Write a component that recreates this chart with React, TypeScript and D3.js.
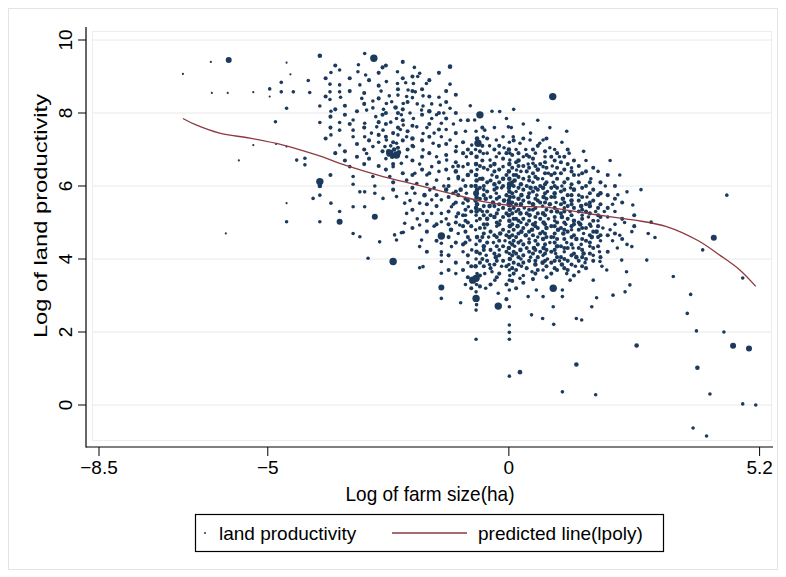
import React from 'react';
import * as d3 from 'd3';

// ---------- data ----------
const xTicks = [-8.5, -5, 0, 5.2];
const yTicks = [0, 2, 4, 6, 8, 10];
const xTitle = 'Log of farm size(ha)';
const yTitle = 'Log of land productivity';
const legendLabels = ['land productivity', 'predicted line(lpoly)'];

// predicted line (lpoly)
const lpolyX = [-6.76, -6.5, -6.0, -5.37, -4.68, -3.99, -3.3, -2.61, -1.91, -1.22, -0.53, 0.16, 0.85, 1.61, 2.58, 3.27, 3.93, 4.38, 4.79, 5.12];
const lpolyY = [7.85, 7.68, 7.45, 7.31, 7.12, 6.85, 6.53, 6.26, 6.03, 5.8, 5.57, 5.45, 5.41, 5.25, 5.07, 4.89, 4.5, 4.1, 3.7, 3.25];

// scatter: [log farm size, log land productivity, weight]
const farLeft: [number, number, number][] = [
  [-6.76, 9.07, 0.5], [-6.18, 9.4, 0.5], [-5.81, 9.45, 3], [-6.16, 8.55, 0.5], [-5.83, 8.55, 0.5], [-5.87, 4.7, 0.5],
  [-5.6, 6.7, 0.5], [-5.3, 8.57, 0.5], [-5.3, 7.12, 0.5], [-4.96, 8.66, 1], [-4.96, 8.45, 0.5], [-4.84, 7.76, 1],
  [-4.83, 7.15, 0.5], [-4.72, 8.84, 1], [-4.72, 8.58, 1], [-4.61, 9.38, 0.5], [-4.53, 9.06, 0.5], [-4.61, 8.13, 1],
  [-4.61, 7.08, 0.5], [-4.61, 5.53, 0.5], [-4.61, 5.02, 1], [-4.47, 8.58, 1],
];
const leftBand: [number, number, number][] = [
  [-4.4, 6.71, 1], [-4.23, 6.76, 1], [-4.23, 6.58, 1], [-4.16, 8.89, 1], [-4.13, 8.56, 1], [-4.06, 5.66, 1],
  [-3.92, 9.57, 2], [-3.92, 8.19, 1], [-3.92, 7.74, 1], [-3.92, 6.12, 4], [-3.92, 6.0, 2], [-3.92, 5.75, 1],
  [-3.92, 5.02, 1], [-3.71, 8.79, 1], [-3.71, 8.58, 1], [-3.71, 8.37, 1], [-3.69, 9.11, 1], [-3.69, 8.05, 1],
  [-3.69, 7.4, 1], [-3.69, 5.53, 1], [-3.51, 9.18, 1], [-3.51, 8.77, 1], [-3.51, 8.58, 1], [-3.49, 8.43, 1],
  [-3.51, 7.74, 1], [-3.51, 7.53, 1], [-3.51, 7.12, 1], [-3.51, 5.3, 1], [-3.51, 5.02, 3], [-3.3, 6.53, 1],
  [-3.23, 7.81, 1], [-3.23, 7.53, 1], [-3.23, 7.35, 1], [-3.23, 6.26, 1], [-3.23, 6.05, 1], [-3.23, 5.43, 1],
  [-3.23, 4.7, 1], [-3.12, 9.32, 1], [-3.13, 9.13, 1], [-3.09, 8.77, 1], [-3.09, 5.84, 1], [-3.09, 4.61, 1],
  [-3.05, 8.4, 1],
];
const midLeft: [number, number, number][] = [
  [-2.99, 9.63, 1], [-2.97, 9.04, 1], [-2.8, 9.5, 4], [-2.99, 7.72, 1], [-2.95, 8.08, 1], [-2.99, 7.35, 1],
  [-2.95, 6.89, 1], [-2.99, 5.84, 1], [-2.99, 5.43, 1], [-2.92, 4.02, 1], [-2.82, 8.33, 1], [-2.82, 8.14, 1],
  [-2.82, 7.08, 1], [-2.82, 6.26, 1], [-2.76, 7.9, 1], [-2.74, 7.62, 1], [-2.78, 6.0, 1], [-2.78, 5.8, 1],
  [-2.78, 5.16, 3], [-2.68, 4.47, 1], [-2.61, 7.53, 1], [-2.61, 5.66, 1], [-2.57, 7.08, 1], [-2.54, 8.86, 1],
  [-2.54, 8.26, 1], [-2.54, 7.26, 1], [-2.48, 8.47, 1], [-2.47, 6.9, 4], [-2.47, 6.26, 1], [-2.43, 8.31, 1],
  [-2.4, 6.53, 1], [-2.4, 3.93, 4], [-2.37, 4.66, 1], [-2.33, 6.85, 4], [-2.33, 7.85, 1], [-2.33, 7.17, 1],
  [-2.33, 5.71, 1], [-2.33, 4.52, 1], [-2.31, 9.13, 1], [-2.31, 8.81, 1], [-2.3, 8.49, 1], [-2.3, 7.4, 1],
  [-2.23, 7.95, 1], [-2.23, 6.62, 1], [-2.23, 4.72, 1], [-2.19, 8.26, 1], [-2.19, 7.67, 1], [-2.19, 4.73, 1],
  [-2.16, 5.53, 1], [-2.16, 4.98, 1], [-2.14, 8.83, 1], [-2.12, 8.45, 1], [-2.12, 7.35, 1], [-2.12, 6.8, 1],
  [-2.12, 6.16, 1], [-2.12, 5.8, 1], [-2.12, 5.25, 1], [-2.09, 8.63, 1], [-2.0, 8.42, 1],
  [-2.5, 6.95, 2], [-2.42, 6.8, 2], [-2.38, 7.0, 2], [-2.28, 6.92, 2], [-2.55, 6.75, 1], [-2.45, 7.1, 1],
  [-2.65, 8.6, 1], [-2.6, 8.1, 1], [-2.45, 7.75, 1], [-2.35, 8.15, 2], [-2.25, 7.55, 1], [-2.05, 8.0, 1],
  [-2.85, 7.45, 1], [-2.7, 7.2, 1],
];
const centreLeft: [number, number, number][] = [
  [-1.98, 8.81, 1], [-1.96, 9.25, 1], [-1.94, 8.58, 1], [-1.98, 7.85, 1], [-1.98, 7.08, 1], [-1.95, 5.8, 1],
  [-1.91, 7.62, 1], [-1.91, 6.07, 1], [-1.89, 9.0, 1], [-1.85, 9.09, 1], [-1.85, 5.53, 1], [-1.85, 4.93, 1],
  [-1.85, 4.34, 1], [-1.81, 8.08, 1], [-1.81, 4.52, 1], [-1.78, 8.47, 1], [-1.78, 8.19, 1], [-1.78, 7.44, 1],
  [-1.78, 6.99, 1], [-1.78, 5.25, 1], [-1.78, 3.79, 1], [-1.71, 8.81, 1], [-1.64, 5.89, 1], [-1.6, 8.25, 1],
  [-1.6, 7.85, 1], [-1.6, 6.53, 1], [-1.6, 5.62, 1], [-1.57, 7.17, 1], [-1.5, 6.8, 1], [-1.5, 6.16, 1],
  [-1.45, 8.43, 1], [-1.42, 8.22, 1], [-1.4, 7.72, 1], [-1.4, 7.35, 1], [-1.4, 5.62, 1], [-1.4, 5.25, 1],
  [-1.4, 5.02, 1], [-1.4, 4.63, 4], [-1.4, 4.43, 1], [-1.4, 4.2, 1], [-1.4, 4.11, 1], [-1.4, 3.93, 1],
  [-1.4, 3.61, 1], [-1.4, 3.22, 3], [-1.4, 2.92, 1], [-1.29, 6.71, 1], [-1.22, 9.27, 2], [-1.22, 8.79, 1],
  [-1.22, 8.13, 1], [-1.22, 7.26, 1], [-1.19, 5.43, 1], [-1.19, 4.34, 1], [-1.16, 6.53, 1], [-1.16, 5.8, 1],
  [-1.09, 7.08, 1], [-1.09, 5.16, 1], [-1.02, 4.93, 1], [-1.35, 6.0, 1], [-1.7, 6.3, 1], [-1.3, 5.9, 2],
  [-1.05, 6.2, 1], [-1.55, 4.9, 1], [-1.2, 4.8, 2], [-1.9, 8.25, 1], [-1.7, 7.6, 1], [-1.65, 8.05, 2],
  [-1.55, 7.45, 1], [-1.5, 7.95, 1], [-1.35, 8.0, 1], [-1.3, 7.55, 1], [-1.15, 7.7, 1], [-2.0, 7.3, 2],
  [-1.95, 6.35, 1], [-1.85, 6.6, 1], [-1.75, 5.75, 2], [-1.7, 6.05, 1], [-1.55, 5.95, 1], [-1.45, 6.4, 1],
  [-1.25, 6.2, 1], [-1.1, 6.4, 2], [-1.15, 5.5, 1], [-1.3, 5.1, 1], [-1.6, 5.25, 1], [-1.9, 5.1, 1],
  [-2.05, 5.6, 1], [-1.85, 3.76, 1],
];
const centre: [number, number, number][] = [
  [-0.95, 6.53, 1], [-0.95, 6.16, 1], [-0.95, 5.53, 1], [-0.88, 6.8, 1], [-0.88, 5.8, 1], [-0.84, 5.43, 1],
  [-0.81, 4.52, 1], [-0.77, 7.12, 1], [-0.77, 4.25, 1], [-0.75, 3.42, 4], [-0.64, 7.17, 4], [-0.6, 7.95, 4],
  [-0.71, 7.81, 1], [-0.53, 7.35, 1], [-0.53, 6.89, 1], [-0.5, 7.53, 1], [-0.48, 3.2, 1], [-0.39, 6.71, 1],
  [-0.68, 7.5, 1], [-0.66, 7.3, 2], [-0.69, 7.0, 1], [-0.67, 6.8, 2], [-0.68, 6.6, 2], [-0.66, 6.45, 1],
  [-0.68, 6.3, 2], [-0.67, 6.15, 2], [-0.69, 6.0, 2], [-0.66, 5.9, 2], [-0.68, 5.8, 3], [-0.67, 5.7, 2],
  [-0.69, 5.6, 2], [-0.66, 5.5, 2], [-0.68, 5.4, 2], [-0.67, 5.3, 2], [-0.68, 5.2, 1], [-0.67, 5.05, 1],
  [-0.69, 4.8, 1], [-0.66, 4.6, 2], [-0.68, 4.4, 1], [-0.67, 4.2, 2], [-0.68, 4.0, 1], [-0.69, 3.8, 2],
  [-0.66, 3.6, 1], [-0.68, 3.47, 4], [-0.67, 3.3, 1], [-0.68, 3.1, 1], [-0.68, 2.92, 4], [-0.67, 2.75, 1],
  [-0.68, 2.6, 1], [-0.68, 1.8, 1],
  [-0.55, 6.2, 2], [-0.52, 5.9, 1], [-0.48, 5.65, 2], [-0.55, 5.3, 1], [-0.45, 5.1, 2], [-0.5, 4.85, 1],
  [-0.42, 4.6, 1], [-0.52, 4.35, 2], [-0.47, 4.1, 1], [-0.4, 3.85, 1], [-0.44, 6.45, 1], [-0.4, 5.45, 2],
  [-0.5, 3.6, 1], [-0.35, 6.3, 1], [-0.3, 6.05, 2], [-0.26, 5.8, 1], [-0.33, 5.55, 2], [-0.22, 5.35, 1],
  [-0.3, 5.15, 2], [-0.25, 4.9, 1], [-0.18, 4.7, 2], [-0.32, 4.45, 1], [-0.2, 4.25, 1], [-0.27, 4.05, 2],
  [-0.15, 3.8, 1], [-0.35, 3.65, 1], [-0.12, 6.2, 2], [-0.15, 5.95, 1], [-0.1, 5.6, 2], [-0.18, 5.05, 1],
  [-0.08, 4.5, 1], [-0.29, 3.42, 1], [-0.26, 7.26, 1], [-0.26, 6.8, 1], [-0.22, 3.06, 1], [-0.22, 2.71, 4],
  [-0.19, 8.04, 1], [-0.12, 7.35, 1], [-0.12, 6.53, 1], [-0.05, 7.85, 1], [-0.01, 7.62, 1],
  [-0.45, 6.9, 1], [-0.4, 7.1, 1], [-0.3, 6.6, 2], [-0.2, 6.9, 1], [-0.1, 7.05, 1], [-0.3, 7.6, 1],
  [-0.35, 8.05, 1], [-0.8, 8.2, 1], [-0.9, 7.5, 1], [-1.0, 7.8, 1], [-0.85, 6.3, 2], [-1.0, 5.9, 2],
  [-0.9, 5.2, 1], [-1.05, 4.7, 1], [-0.95, 4.2, 1], [-0.85, 3.9, 1], [-1.1, 3.6, 1], [-0.9, 3.3, 1],
  [-1.0, 2.8, 1],
  [0.01, 7.2, 1], [0.0, 7.0, 2], [0.02, 6.9, 1], [0.01, 6.6, 2], [0.0, 6.4, 2], [0.01, 6.2, 2],
  [0.02, 6.05, 3], [0.0, 5.95, 2], [0.01, 5.85, 2], [0.02, 5.7, 2], [0.0, 5.6, 2], [0.01, 5.5, 3],
  [0.02, 5.35, 2], [0.0, 5.2, 2], [0.01, 5.05, 2], [0.02, 4.9, 2], [0.0, 4.75, 1], [0.01, 4.6, 2],
  [0.02, 4.45, 1], [0.0, 4.3, 2], [0.01, 4.15, 1], [0.02, 4.0, 2], [0.0, 3.85, 1], [0.01, 3.7, 1],
  [0.02, 3.55, 1], [0.01, 3.42, 1], [0.01, 3.15, 1], [0.01, 2.69, 1], [0.01, 2.19, 1], [0.01, 1.99, 1],
  [0.01, 1.8, 1], [0.01, 0.79, 1],
  [0.02, 6.71, 1], [0.09, 7.35, 1], [0.16, 6.44, 1], [0.23, 7.17, 1], [0.23, 3.47, 1], [0.23, 0.9, 2],
  [0.3, 6.8, 1], [0.05, 7.6, 1], [0.15, 7.0, 1], [0.2, 6.7, 2], [0.1, 8.1, 1],
  [0.12, 6.15, 2], [0.15, 5.85, 1], [0.2, 5.65, 2], [0.25, 6.4, 1], [0.25, 6.05, 2], [0.26, 5.75, 2],
  [0.25, 5.5, 2], [0.24, 5.25, 2], [0.25, 5.0, 1], [0.26, 4.75, 2], [0.25, 4.5, 1], [0.24, 4.25, 2],
  [0.25, 4.0, 1], [0.26, 3.8, 1], [0.15, 5.3, 1], [0.18, 4.9, 2], [0.12, 4.35, 1], [0.32, 5.4, 1],
  [0.35, 4.65, 2], [0.3, 3.55, 1],
];
const centreRight: [number, number, number][] = [
  [0.44, 7.26, 1], [0.5, 6.62, 1], [0.64, 7.17, 1], [0.71, 7.26, 1], [0.71, 6.53, 1], [0.82, 6.35, 1],
  [0.35, 7.0, 1], [0.4, 6.6, 1], [0.55, 6.9, 1], [0.6, 6.45, 2], [0.75, 6.8, 1], [0.85, 7.05, 1],
  [0.9, 6.55, 1], [0.45, 7.45, 1], [0.3, 7.7, 1], [0.6, 7.8, 1],
  [0.42, 6.25, 1], [0.45, 5.95, 2], [0.4, 5.7, 2], [0.5, 5.5, 2], [0.43, 5.2, 2], [0.55, 5.0, 1],
  [0.48, 4.8, 2], [0.42, 4.55, 1], [0.52, 4.3, 2], [0.45, 4.05, 1], [0.55, 3.85, 2], [0.5, 6.1, 1],
  [0.58, 5.75, 1], [0.6, 4.6, 1], [0.48, 3.65, 1],
  [0.7, 6.2, 1], [0.71, 5.95, 2], [0.72, 5.7, 2], [0.7, 5.45, 1], [0.71, 5.25, 2], [0.72, 5.0, 2],
  [0.7, 4.75, 1], [0.71, 4.55, 2], [0.72, 4.3, 2], [0.71, 4.1, 1], [0.7, 3.9, 2], [0.71, 3.7, 1],
  [0.8, 5.85, 1], [0.85, 5.5, 2], [0.82, 5.1, 1], [0.78, 4.85, 2], [0.85, 4.45, 1], [0.8, 4.0, 1],
  [0.92, 6.1, 1], [0.95, 5.8, 2], [0.98, 5.55, 1], [1.0, 5.3, 2], [0.95, 5.05, 1], [1.02, 4.8, 2],
  [0.93, 4.6, 1], [1.0, 4.35, 2], [0.97, 4.15, 1], [1.05, 3.95, 1], [1.1, 6.0, 1], [1.12, 5.65, 2],
  [1.15, 5.4, 1], [1.1, 5.15, 2], [1.18, 4.95, 1], [1.13, 4.7, 2], [1.2, 4.45, 1], [1.15, 4.2, 1],
  [1.1, 3.85, 2], [1.2, 3.6, 1],
  [1.28, 5.95, 1], [1.3, 5.6, 2], [1.27, 5.3, 1], [1.35, 5.05, 2], [1.3, 4.8, 1], [1.4, 4.55, 2],
  [1.33, 4.3, 1], [1.4, 4.05, 2], [1.38, 3.8, 1], [1.45, 5.75, 1], [1.5, 5.45, 2], [1.52, 5.2, 1],
  [1.48, 4.95, 2], [1.55, 4.7, 1], [1.5, 4.4, 1], [1.55, 4.15, 2], [1.58, 3.9, 1], [1.45, 3.65, 1],
  [1.62, 5.7, 1], [1.68, 5.45, 2], [1.65, 5.15, 1], [1.7, 4.9, 1], [1.72, 4.6, 2], [1.68, 4.35, 1],
  [1.75, 4.1, 1], [1.8, 5.3, 1], [1.85, 5.05, 1], [1.82, 4.75, 2], [1.9, 4.5, 1], [1.88, 4.2, 1],
  [1.95, 4.85, 1], [1.98, 5.3, 1], [1.93, 3.8, 1],
  [0.91, 8.45, 4], [0.95, 7.0, 1], [1.05, 6.8, 1], [1.1, 7.2, 1], [1.25, 6.9, 1], [1.3, 6.5, 1],
  [1.45, 6.3, 1], [1.6, 6.7, 1], [1.7, 6.2, 1], [1.85, 6.4, 1], [2.1, 6.7, 1], [1.55, 6.95, 1],
  [1.2, 7.5, 1], [0.85, 7.6, 1], [2.0, 6.0, 1], [2.3, 6.3, 1], [1.9, 5.8, 2], [1.35, 5.9, 2],
];
const lowerRight: [number, number, number][] = [
  [0.4, 2.97, 1], [0.47, 2.47, 1], [0.57, 3.15, 1], [0.7, 2.37, 1], [0.71, 2.97, 1], [0.92, 3.2, 4],
  [0.92, 2.69, 1], [0.93, 2.21, 1], [1.11, 3.15, 1], [1.11, 2.97, 1], [1.11, 0.36, 1], [1.27, 3.42, 1],
  [1.4, 2.37, 1], [1.51, 2.33, 1], [1.4, 1.11, 2], [1.72, 2.69, 1], [1.82, 2.94, 1], [1.75, 3.42, 1],
  [1.8, 0.28, 1], [1.89, 3.93, 1], [2.03, 3.7, 1], [2.16, 3.01, 1], [2.34, 3.97, 1], [2.44, 3.65, 1],
  [2.51, 3.29, 1], [2.55, 4.34, 1], [2.41, 3.1, 1], [2.65, 1.63, 2], [2.86, 3.97, 1], [2.89, 4.7, 1],
  [3.03, 4.59, 1], [3.41, 3.52, 1], [3.77, 3.03, 1], [3.7, 2.51, 1], [3.89, 2.03, 1], [3.91, 1.02, 2],
  [3.82, -0.63, 1], [2.05, 5.15, 1], [2.1, 4.8, 1], [2.15, 4.5, 1], [2.2, 4.95, 1], [2.25, 4.3, 1],
  [2.3, 4.65, 1], [2.4, 5.0, 1], [2.45, 4.4, 1], [2.55, 4.75, 1], [2.2, 5.3, 1], [2.26, 5.76, 1],
  [2.45, 5.84, 1], [2.74, 5.9, 1], [2.57, 5.48, 1], [2.95, 5.01, 1], [2.15, 5.5, 1],
];
const farRight: [number, number, number][] = [
  [4.1, -0.85, 1], [4.17, 0.3, 1], [4.25, 4.58, 3], [4.52, 5.75, 1], [4.02, 4.25, 1], [4.65, 1.62, 3],
  [4.98, 1.55, 3], [4.46, 2.0, 1], [4.85, 0.03, 1], [5.12, 0.0, 1], [4.85, 3.48, 1],
];

const crowdedColumns: [number, number[]][] = [
  [-3.8, [8.95, 8.45, 7.3]],
  [-3.7, [7.9, 7.6, 6.3]],
  [-3.6, [9.3, 8.1, 6.9]],
  [-3.4, [8.2, 7.95, 6.95, 6.7]],
  [-3.3, [8.95, 8.6, 7.7]],
  [-3.15, [8.05, 7.15, 6.8]],
  [-3.0, [8.55, 8.25, 7.6, 7.0, 6.6]],
  [-2.9, [8.9, 7.25, 6.75]],
  [-2.7, [9.1, 8.75, 8.4, 7.75, 7.4, 6.55]],
  [-2.62, [9.25, 7.95, 6.95]],
  [-2.55, [9.3, 8.0, 7.7, 7.35, 6.45]],
  [-2.4, [7.45, 7.2, 6.6, 6.1, 5.9]],
  [-2.3, [8.65, 8.0, 7.6, 7.05]],
  [-2.2, [9.4, 8.95, 8.1, 7.8, 7.25, 6.35]],
  [-2.1, [8.3, 7.5, 7.0]],
  [-2.0, [9.0, 8.6, 7.65, 7.1, 6.7, 6.3, 5.95, 5.35, 4.85]],
  [-1.8, [8.65, 7.95, 7.25, 6.8, 6.45]],
  [-1.7, [5.5, 5.05, 4.75, 4.2]],
  [-1.65, [8.9, 8.45, 7.7, 7.35, 6.9, 6.35]],
  [-1.5, [5.75, 5.45, 4.95, 4.5]],
  [-1.45, [9.1, 8.0, 7.55, 7.1, 6.65]],
  [-1.3, [8.6, 8.3, 7.85, 7.15, 6.85, 6.45]],
  [-1.25, [6.0, 5.7, 5.3, 4.95, 4.6, 4.1, 3.7]],
  [-1.1, [8.5, 8.0, 7.45, 6.95, 6.65, 5.85, 5.55, 5.0, 4.45, 3.9]],
  [-1.05, [6.55, 6.25, 5.75, 5.25]],
  [-0.95, [7.2, 6.9, 5.2, 4.9, 4.4, 3.7]],
  [-0.9, [6.0, 5.65, 5.35, 5.05, 4.75, 4.45]],
  [-0.85, [7.8, 7.0, 6.6, 5.6, 5.0, 4.6, 4.1, 3.5]],
  [-0.78, [6.9, 6.4, 6.0, 5.3, 4.9, 3.8, 3.2]],
  [-0.6, [6.95, 6.55, 6.2, 5.95, 5.65, 5.35, 5.1, 4.85, 4.5, 4.15, 3.9, 3.55, 3.25]],
  [-0.55, [7.6, 7.1, 6.7, 4.6, 4.0]],
  [-0.52, [6.5, 6.0, 5.75, 5.45, 5.2, 4.95, 4.7, 4.25, 3.8]],
  [-0.45, [7.3, 6.1, 5.85, 5.3, 4.95, 4.45, 3.95]],
  [-0.38, [6.55, 6.15, 5.7, 5.2, 4.75, 4.25, 3.75, 3.3]],
  [-0.3, [7.0, 6.4, 5.9, 5.45, 4.65, 4.15, 3.85]],
  [-0.25, [6.25, 5.95, 5.65, 5.25, 5.0, 4.6, 4.35, 3.95, 3.5]],
  [-0.2, [7.1, 6.45, 6.1, 5.7, 5.5, 4.95, 4.5, 4.1, 3.6]],
  [-0.12, [6.75, 6.0, 5.4, 5.15, 4.8, 4.35, 3.95]],
  [-0.05, [6.9, 6.3, 5.75, 5.25, 4.65, 4.2, 3.8, 3.3, 2.9]],
  [0.07, [6.85, 6.5, 6.1, 5.8, 5.55, 5.25, 4.95, 4.65, 4.4, 4.1, 3.75, 3.4]],
  [0.1, [7.25, 6.3, 6.0, 5.7, 5.4, 5.1, 4.8, 4.5, 4.2, 3.9, 3.6]],
  [0.15, [6.65, 6.3, 5.5, 5.1, 4.6, 4.15, 3.7, 3.2]],
  [0.2, [6.9, 6.55, 6.25, 5.95, 5.35, 5.05, 4.7, 4.45, 4.05, 3.85]],
  [0.3, [7.3, 6.55, 6.2, 5.9, 5.6, 5.1, 4.85, 4.4, 4.1, 3.9, 3.35]],
  [0.37, [6.85, 6.4, 6.0, 5.25, 4.95, 4.3, 3.75]],
  [0.42, [6.8, 6.5, 6.15, 5.8, 5.55, 5.35, 5.05, 4.75, 4.45, 4.2, 3.95]],
  [0.5, [7.0, 6.75, 6.35, 5.85, 5.35, 4.95, 4.65, 4.15, 3.45]],
  [0.55, [6.55, 6.25, 5.95, 5.65, 5.4, 5.15, 4.9, 4.5, 4.25, 3.95, 3.6]],
  [0.6, [7.1, 6.2, 5.9, 5.6, 5.25, 4.85, 4.4, 4.05, 3.7]],
  [0.65, [6.6, 6.0, 5.55, 5.1, 4.7, 4.2]],
  [0.75, [6.95, 6.65, 6.35, 6.05, 5.8, 5.55, 5.2, 4.95, 4.7, 4.4, 4.15, 3.95]],
  [0.78, [7.3, 6.5, 6.1, 5.65, 5.35, 4.6, 4.25, 3.8, 3.5]],
  [0.88, [6.8, 6.3, 5.95, 5.7, 5.3, 4.9, 4.6, 4.2, 3.9, 3.6]],
  [0.95, [6.7, 6.35, 6.0, 5.7, 5.4, 5.15, 4.9, 4.7, 4.45, 4.25, 3.95, 3.75]],
  [1.0, [6.9, 6.5, 6.2, 5.95, 5.0, 4.55, 4.05, 3.7]],
  [1.08, [6.65, 6.35, 5.85, 5.5, 5.25, 4.85, 4.35, 4.05]],
  [1.15, [6.8, 6.45, 6.1, 5.9, 5.55, 5.3, 5.0, 4.8, 4.55, 4.3, 4.0, 3.75]],
  [1.22, [7.0, 6.6, 6.2, 5.75, 5.45, 5.1, 4.75, 4.3, 3.95, 3.7]],
  [1.3, [6.4, 6.05, 5.75, 5.5, 5.2, 4.9, 4.6, 4.4, 4.1, 3.85]],
  [1.35, [6.7, 6.3, 5.4, 4.95, 4.65, 4.15, 3.55]],
  [1.45, [6.55, 6.1, 5.6, 5.3, 5.0, 4.8, 4.3, 3.95]],
  [1.52, [6.35, 5.95, 5.7, 5.35, 5.1, 4.85, 4.55, 4.25, 4.05, 3.8]],
  [1.6, [6.4, 6.0, 5.5, 5.3, 4.85, 4.5, 4.0, 3.75]],
  [1.68, [6.1, 5.8, 5.55, 5.25, 4.95, 4.65, 4.45, 4.15]],
  [1.75, [6.5, 5.9, 5.6, 5.05, 4.75, 4.3, 3.95]],
  [1.85, [5.75, 5.4, 5.2, 4.9, 4.6, 4.35]],
  [1.9, [6.1, 5.5, 5.15, 4.65, 4.05]],
  [2.05, [6.3, 5.75, 5.4, 4.65, 4.2]],
  [2.2, [6.0, 5.65, 4.7]],
  [2.35, [5.55, 5.1, 4.55]],
  [2.6, [5.2, 4.9]],
];
const crowdedWeight = 1.5;

const allPoints: [number, number, number][] = [
  ...farLeft, ...leftBand, ...midLeft, ...centreLeft, ...centre, ...centreRight, ...lowerRight, ...farRight,
  ...crowdedColumns.flatMap(([cx, ys]) => ys.map((v) => [cx, v, crowdedWeight] as [number, number, number])),
];

// ---------- layout ----------
const W = 786;
const H = 577;
const axisX = 86;
const axisY = 447;
const font = '"Liberation Sans", Arial, Helvetica, sans-serif';
const navy = '#1c3a5c';
const maroon = '#8e3a40';

export default function App() {
  const x = d3.scaleLinear().domain([-8.5, 5.2]).range([99, 759.6]);
  const y = d3.scaleLinear().domain([0, 10]).range([405, 40]);
  const r = d3.scaleLinear().domain([0.5, 1, 2, 4]).range([1.1, 1.8, 2.3, 3.7]);
  const line = d3
    .line<number>()
    .x((_, i) => x(lpolyX[i]))
    .y((d) => y(d))
    .curve(d3.curveCatmullRom.alpha(0.5));

  return (
    <svg width={W} height={H} style={{ position: 'absolute', left: 0, top: 0, background: '#fff' }} fontFamily={font}>
      <rect x={0} y={0} width={W} height={H} fill="#fff" />
      <rect x={8.5} y={8.5} width={769} height={561} fill="none" stroke="#e4e4e4" />
      {/* inner plot region */}
      <rect x={92.5} y={31.5} width={679} height={409} fill="none" stroke="#ececec" />
      {yTicks.map((t) => (
        <line key={'g' + t} x1={93} x2={771} y1={y(t)} y2={y(t)} stroke="#e8e8e8" strokeWidth={1} />
      ))}
      {/* scatter */}
      {allPoints.map((p, i) => (
        <circle key={i} cx={x(p[0])} cy={y(p[1])} r={r(p[2])} fill={navy} />
      ))}
      <path d={line(lpolyY) || ''} fill="none" stroke={maroon} strokeWidth={1.3} />
      {/* axes */}
      <line x1={axisX} x2={axisX} y1={27} y2={axisY + 0.5} stroke="#000" strokeWidth={1.2} />
      <line x1={axisX} x2={773} y1={axisY} y2={axisY} stroke="#000" strokeWidth={1.2} />
      {yTicks.map((t) => (
        <g key={'yt' + t}>
          <line x1={78} x2={axisX} y1={y(t)} y2={y(t)} stroke="#000" strokeWidth={1} />
          <text transform={`translate(72,${y(t)}) rotate(-90)`} textAnchor="middle" fontSize={19} fill="#000">
            {t}
          </text>
        </g>
      ))}
      {xTicks.map((t) => (
        <g key={'xt' + t}>
          <line x1={x(t)} x2={x(t)} y1={axisY} y2={axisY + 9} stroke="#000" strokeWidth={1} />
          <text x={x(t)} y={axisY + 27} textAnchor="middle" fontSize={19} fill="#000">
            {t < 0 ? '\u2212' + Math.abs(t) : String(t)}
          </text>
        </g>
      ))}
      <text transform="translate(430,501) scale(1,1.1)" textAnchor="middle" fontSize={19} fill="#000">
        {xTitle}
      </text>
      <text transform="translate(47,216) rotate(-90) scale(1.25,1)" textAnchor="middle" fontSize={19} fill="#000">
        {yTitle}
      </text>
      {/* legend */}
      <rect x={195.5} y={514.5} width={468} height={37} fill="#fff" stroke="#000" strokeWidth={1.2} />
      <circle cx={205} cy={533} r={1} fill={navy} />
      <text x={219} y={540} fontSize={19} fill="#000">
        {legendLabels[0]}
      </text>
      <line x1={392} x2={467} y1={533} y2={533} stroke={maroon} strokeWidth={1.3} />
      <text x={478} y={540} fontSize={19} fill="#000">
        {legendLabels[1]}
      </text>
    </svg>
  );
}
